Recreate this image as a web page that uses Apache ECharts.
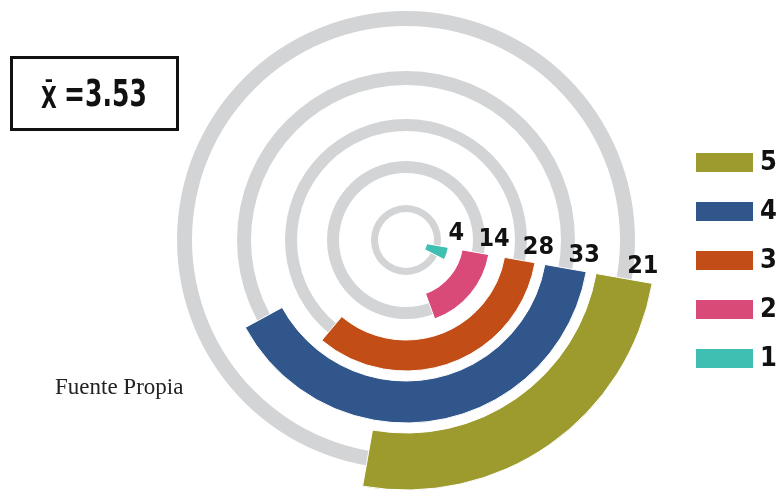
<!DOCTYPE html>
<html>
<head>
<meta charset="utf-8">
<title>Distribución de respuestas</title>
<script src="https://cdn.jsdelivr.net/npm/echarts@6/dist/echarts.min.js"></script>
<style>
  html, body { margin: 0; padding: 0; background: #ffffff; }
  #chart { width: 778px; height: 498px; }
</style>
</head>
<body>
<div id="chart"></div>
<script>
// Response scale and how many answers each level received
const categories = ['1', '2', '3', '4', '5'];
const counts = [4, 14, 28, 33, 21];
const colors = ['#3fbfb2', '#d94a78', '#c34d16', '#30568c', '#9e9b2e'];
const legendOrder = ['5', '4', '3', '2', '1'];
const sourceNote = 'Fuente Propia';

// Ring geometry: each level gets its own polar band, plus a thinner grey track
const center = [406, 240];
const barRadii = [[21, 43], [57, 84], [100, 131], [141, 183], [193, 250]];
const trackRadii = [[28, 35], [67, 79], [109, 121], [155, 169], [214, 229]];
const angleMax = 84;
const startAngle = -10;

const boldFont = "'DejaVu Sans Condensed', 'DejaVu Sans', sans-serif";

const total = counts.reduce((a, b) => a + b, 0);
const mean = categories.reduce((s, c, i) => s + Number(c) * counts[i], 0) / total;

const polar = [];
const angleAxis = [];
const radiusAxis = [];
const series = [];

categories.forEach((cat, i) => {
  polar.push({ center: center, radius: barRadii[i] });
  angleAxis.push({
    polarIndex: i, type: 'value', min: 0, max: angleMax,
    startAngle: startAngle, clockwise: true, show: false
  });
  radiusAxis.push({ polarIndex: i, type: 'category', data: [cat], show: false });

  // grey background track
  series.push({
    type: 'pie', silent: true, animation: false, z: 1,
    center: center, radius: trackRadii[i],
    data: [{ value: 1, name: 'pista ' + cat }],
    label: { show: false }, labelLine: { show: false },
    itemStyle: { color: '#d3d4d6', borderWidth: 0 },
    emphasis: { disabled: true }
  });

  // value arc, labelled just before its starting edge
  series.push({
    name: cat, type: 'bar', coordinateSystem: 'polar', polarIndex: i,
    data: [counts[i]], barWidth: '100%', z: 3, animation: false,
    itemStyle: { color: colors[i], borderColor: '#ffffff', borderWidth: 1 },
    label: {
      show: true, position: 'start', distance: 4, rotate: 0,
      align: 'center', verticalAlign: 'bottom',
      offset: [18, 4],
      formatter: '{c}',
      fontFamily: boldFont, fontWeight: 'bold', fontSize: 25, color: '#111111'
    },
    emphasis: { disabled: true }
  });
});

const chart = echarts.init(document.getElementById('chart'), null, { renderer: 'canvas' });
chart.setOption({
  backgroundColor: '#ffffff',
  animation: false,
  polar: polar,
  angleAxis: angleAxis,
  radiusAxis: radiusAxis,
  legend: {
    data: legendOrder,
    orient: 'vertical',
    left: 691, top: 144,
    itemWidth: 57, itemHeight: 19, itemGap: 22,
    icon: 'rect', selectedMode: false,
    itemStyle: { borderWidth: 0 },
    textStyle: {
      fontFamily: boldFont, fontWeight: 'bold', fontSize: 27, color: '#111111',
      padding: [0, 0, 0, 2]
    }
  },
  graphic: [
    {
      type: 'rect', left: 10, top: 56,
      shape: { width: 166, height: 72 },
      style: { fill: '#ffffff', stroke: '#111111', lineWidth: 3 }
    },
    {
      type: 'text', x: 94, y: 93, scaleX: 0.66,
      style: {
        text: '{x|X\u0304 }{d|=' + mean.toFixed(2) + '}',
        align: 'center', verticalAlign: 'middle',
        rich: {
          x: {
            fontFamily: "'DejaVu Sans', sans-serif", fontWeight: 'bold', fontSize: 31,
            fill: '#111111', verticalAlign: 'bottom', lineHeight: 36
          },
          d: {
            fontFamily: "'DejaVu Sans', sans-serif", fontWeight: 'bold', fontSize: 38,
            fill: '#111111', verticalAlign: 'bottom', lineHeight: 44
          }
        }
      }
    },
    {
      type: 'text', x: 55, y: 388,
      style: {
        text: sourceNote,
        fontFamily: "'Liberation Serif', 'DejaVu Serif', serif", fontSize: 23,
        fill: '#222222', verticalAlign: 'middle'
      }
    }
  ],
  series: series
});
</script>
</body>
</html>
